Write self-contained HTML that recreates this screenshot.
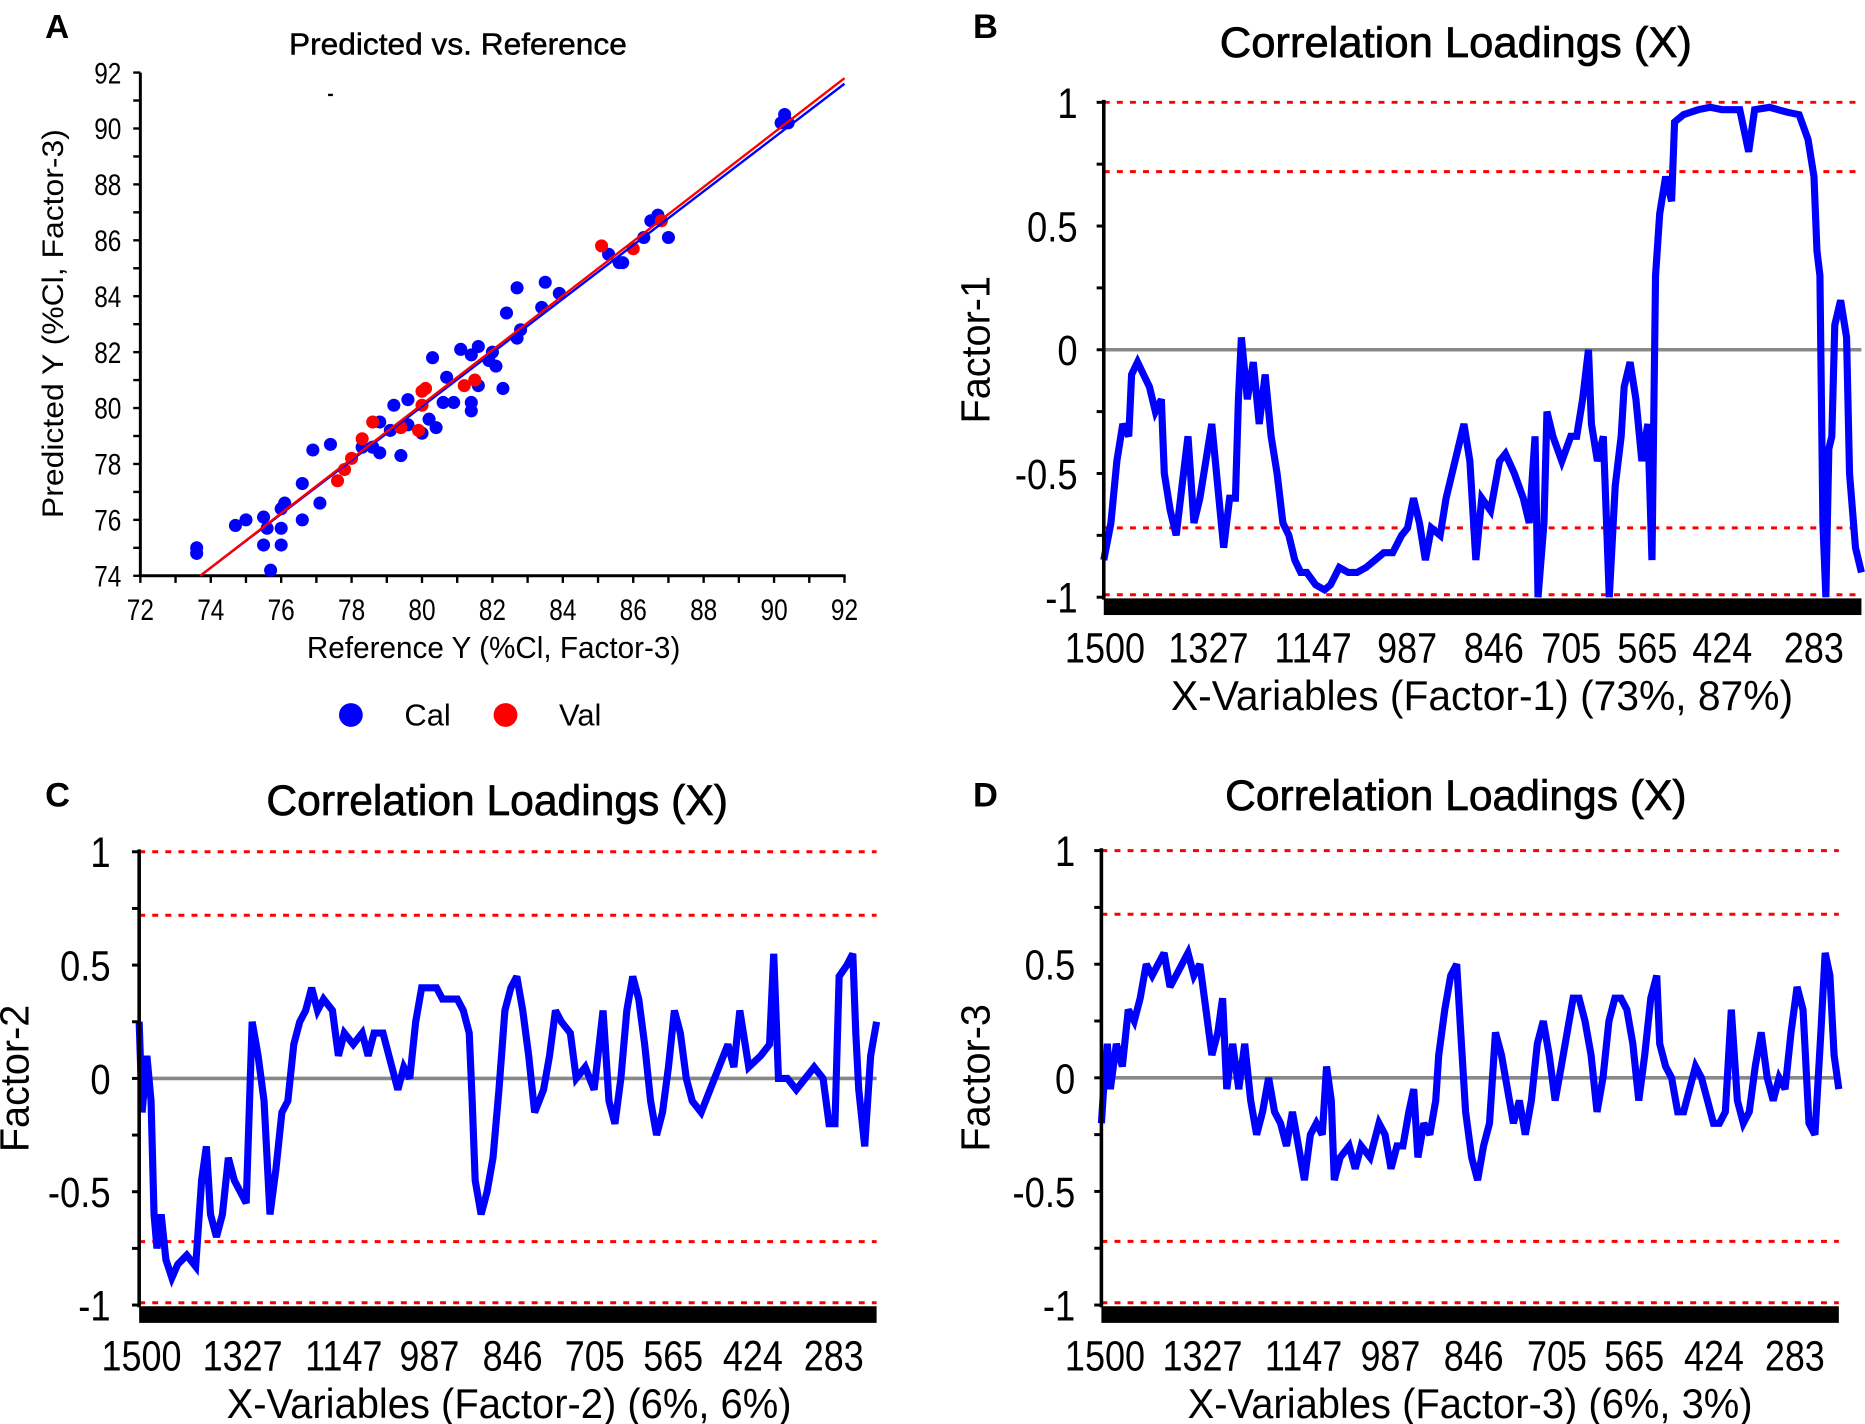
<!DOCTYPE html>
<html><head><meta charset="utf-8"><style>
html,body{margin:0;padding:0;background:#fff;}
svg{display:block;font-family:"Liberation Sans",Arial,sans-serif;}
</style></head><body>
<svg id="fig" width="1865" height="1424" viewBox="0 0 1568 1197" preserveAspectRatio="none" xmlns="http://www.w3.org/2000/svg">
<rect width="1568" height="1197" fill="#fff"/>
</svg>
<script>
// ---------- Panel A data ----------
const calX = [73.6,73.6,74.7,75.0,75.5,75.5,75.6,75.7,76.0,76.0,76.0,76.1,76.6,76.6,77.1,76.9,77.4,78.3,78.6,78.8,78.8,79.1,79.2,79.4,79.6,79.6,80.0,80.2,80.4,80.3,80.6,80.7,80.9,81.1,81.4,81.4,81.4,81.6,81.6,81.9,82.0,82.1,82.3,82.4,82.7,82.7,82.8,83.4,83.5,83.9,85.3,85.6,85.7,86.3,86.5,86.7,87.0,90.2,90.3,90.4];
const calY = [75.0,74.8,75.8,76.0,76.1,75.1,75.7,74.2,75.7,75.1,76.4,76.6,76.0,77.3,76.6,78.5,78.7,78.6,78.6,79.5,78.4,79.2,80.1,78.3,80.3,79.4,79.1,79.6,79.3,81.8,80.2,81.1,80.2,82.1,80.2,79.9,81.9,80.8,82.2,81.7,82.0,81.5,80.7,83.4,84.3,82.5,82.8,83.6,84.5,84.1,85.5,85.2,85.2,86.1,86.7,86.9,86.1,90.2,90.5,90.2];
const valX = [77.6,77.8,78.0,78.3,78.6,79.4,79.9,80.0,80.0,80.1,81.2,81.5,85.1,86.0,86.8];
const valY = [77.4,77.8,78.2,78.9,79.5,79.3,79.2,80.1,80.6,80.7,80.8,81.0,85.8,85.7,86.7];
const calLine = [73.7,74.0,92,91.6];
const valLine = [73.7,74.0,92,91.8];
const aTicks = [72,74,76,78,80,82,84,86,88,90,92];
const aYTicks = [74,76,78,80,82,84,86,88,90,92];

// ---------- Loadings data (variable index, loading) ----------
const bIdx = [0,12,22,32,42,47,57,67,77,87,97,102,112,122,132,142,152,162,172,182,192,202,212,222,227,232,242,252,262,272,282,292,302,312,322,332,342,357,372,382,397,412,427,442,457,472,487,502,512,522,532,542,552,567,577,587,597,607,617,627,637,652,667,677,692,707,717,727,732,742,747,757,772,787,797,807,817,822,832,842,852,862,872,877,887,897,907,917,924,930,937,947,957,962,977,1002,1022,1042,1072,1087,1097,1122,1152,1172,1187,1197,1202,1207,1212,1217,1222,1227,1232,1242,1252,1257,1267,1277];
const bVal = [-0.85,-0.7,-0.45,-0.3,-0.35,-0.1,-0.05,-0.1,-0.15,-0.25,-0.2,-0.5,-0.65,-0.75,-0.55,-0.35,-0.7,-0.6,-0.45,-0.3,-0.55,-0.8,-0.6,-0.6,-0.2,0.05,-0.2,-0.05,-0.3,-0.1,-0.35,-0.5,-0.7,-0.75,-0.85,-0.9,-0.9,-0.95,-0.97,-0.95,-0.88,-0.9,-0.9,-0.88,-0.85,-0.82,-0.82,-0.75,-0.72,-0.6,-0.7,-0.85,-0.72,-0.75,-0.6,-0.5,-0.4,-0.3,-0.45,-0.85,-0.6,-0.65,-0.45,-0.42,-0.5,-0.6,-0.7,-0.35,-1.0,-0.7,-0.25,-0.35,-0.45,-0.35,-0.35,-0.2,0.0,-0.3,-0.45,-0.35,-1.0,-0.55,-0.35,-0.15,-0.05,-0.2,-0.45,-0.3,-0.85,0.3,0.55,0.7,0.6,0.92,0.95,0.97,0.98,0.97,0.97,0.8,0.97,0.98,0.96,0.95,0.85,0.7,0.4,0.3,-0.7,-1.0,-0.4,-0.35,0.1,0.2,0.05,-0.5,-0.8,-0.9];
const cIdx = [0,5,13,20,25,30,37,45,55,65,80,95,105,113,120,130,140,150,160,170,180,190,200,210,220,230,240,250,260,270,280,290,300,310,325,335,345,360,375,385,395,410,425,435,445,455,465,475,485,500,510,525,535,545,555,560,565,575,585,595,605,615,625,635,645,655,665,680,690,700,710,725,735,750,765,780,790,800,810,820,830,840,850,860,870,880,890,900,910,920,930,945,960,975,990,1000,1010,1025,1045,1060,1067,1075,1090,1105,1120,1135,1150,1160,1170,1177,1190,1200,1205,1210,1220,1230,1240];
const cVal = [0.25,-0.15,0.1,-0.1,-0.6,-0.75,-0.6,-0.8,-0.88,-0.82,-0.78,-0.83,-0.45,-0.3,-0.6,-0.7,-0.6,-0.35,-0.45,-0.5,-0.55,0.25,0.1,-0.1,-0.6,-0.4,-0.15,-0.1,0.15,0.25,0.3,0.4,0.3,0.35,0.3,0.1,0.2,0.15,0.2,0.1,0.2,0.2,0.05,-0.05,0.05,0.0,0.25,0.4,0.4,0.4,0.35,0.35,0.35,0.3,0.2,-0.1,-0.45,-0.6,-0.5,-0.35,-0.05,0.3,0.4,0.45,0.3,0.1,-0.15,-0.05,0.1,0.3,0.25,0.2,0.0,0.05,-0.05,0.3,-0.1,-0.2,0.0,0.3,0.45,0.35,0.15,-0.1,-0.25,-0.15,0.05,0.3,0.2,0.0,-0.1,-0.15,-0.05,0.05,0.15,0.05,0.3,0.05,0.1,0.15,0.55,0.0,0.0,-0.05,0.0,0.05,0.0,-0.2,-0.2,0.45,0.5,0.55,0.2,-0.05,-0.3,0.1,0.25];
const dIdx = [0,5,10,15,25,35,45,55,65,75,85,95,105,115,125,135,145,155,165,175,185,195,203,210,220,230,240,250,260,270,280,290,300,310,320,330,340,350,360,370,377,385,390,400,415,425,435,450,465,475,485,495,505,515,523,530,540,550,560,565,575,585,595,603,610,620,630,640,650,660,670,680,690,700,710,720,730,740,750,760,770,780,790,800,810,820,830,840,850,860,870,880,890,900,910,920,930,935,945,955,965,975,985,995,1005,1015,1025,1035,1045,1055,1065,1075,1085,1095,1105,1115,1125,1135,1145,1155,1165,1175,1185,1195,1205,1212,1220,1227,1235];
const dVal = [-0.2,0.0,0.15,-0.05,0.15,0.05,0.3,0.25,0.35,0.5,0.45,0.5,0.55,0.4,0.45,0.5,0.55,0.45,0.5,0.3,0.1,0.2,0.35,-0.05,0.15,-0.05,0.15,-0.1,-0.25,-0.15,0.0,-0.15,-0.2,-0.3,-0.15,-0.3,-0.45,-0.25,-0.2,-0.25,0.05,-0.1,-0.45,-0.35,-0.3,-0.4,-0.3,-0.35,-0.2,-0.25,-0.4,-0.3,-0.3,-0.15,-0.05,-0.35,-0.2,-0.25,-0.1,0.1,0.3,0.45,0.5,0.15,-0.15,-0.35,-0.45,-0.3,-0.2,0.2,0.1,-0.05,-0.2,-0.1,-0.25,-0.1,0.15,0.25,0.1,-0.1,0.05,0.2,0.35,0.35,0.25,0.1,-0.15,0.0,0.25,0.35,0.35,0.3,0.15,-0.1,0.1,0.35,0.45,0.15,0.05,0.0,-0.15,-0.15,-0.05,0.05,0.0,-0.1,-0.2,-0.2,-0.15,0.3,-0.1,-0.2,-0.15,0.05,0.2,0.0,-0.1,0.0,-0.05,0.2,0.4,0.3,-0.2,-0.25,0.2,0.55,0.45,0.1,-0.05];
const wnLabels = ["1500","1327","1147","987","846","705","565","424","283"];
const yTicks = [1,0.5,0,-0.5,-1];
const yTickLabels = ["1","0.5","0","-0.5","-1"];
const limits = [1,0.72,-0.72,-0.99];

const NS="http://www.w3.org/2000/svg";
const svg=document.getElementById('fig');
function mk(tag,attrs,parent){const e=document.createElementNS(NS,tag);for(const k in attrs)e.setAttribute(k,attrs[k]);(parent||svg).appendChild(e);return e;}
function txt(s,attrs,parent){const e=mk('text',attrs,parent);e.textContent=s;return e;}
function narrow(e,k){const w=e.getComputedTextLength();e.setAttribute('textLength',(w*k).toFixed(1));e.setAttribute('lengthAdjust','spacingAndGlyphs');}
function fitW(e,w){e.setAttribute('textLength',w);e.setAttribute('lengthAdjust','spacingAndGlyphs');}

// ---------- Panel A ----------
(function(){
  const g=mk('g',{});
  
  
  const X=v=>118+(v-72)/(92-72)*(710-118);
  const Y=v=>484-(v-74)/(92-74)*(484-61);
  let t=txt('A',{x:38,y:32,'font-size':28,'font-weight':'bold'},g);
  
  t=txt('Predicted vs. Reference',{x:385,y:46,'font-size':26,'text-anchor':'middle','stroke':'#000','stroke-width':0.4},g);
  fitW(t,284);
  
  let ax=mk('line',{x1:118,y1:61,x2:118,y2:484,stroke:'#000','stroke-width':2.5},g);
  
  ax=mk('line',{x1:117,y1:484,x2:711,y2:484,stroke:'#000','stroke-width':2.5},g);
  
  for(let v=72;v<=92;v++){mk('line',{x1:X(v),y1:484,x2:X(v),y2:490,stroke:'#000','stroke-width':2},g);}
  for(let v=74;v<=92;v++){mk('line',{x1:112,y1:Y(v),x2:118,y2:Y(v),stroke:'#000','stroke-width':2},g);}
  aTicks.forEach(v=>{const e=txt(String(v),{x:X(v),y:521,'font-size':25,'text-anchor':'middle'},g);narrow(e,0.82);
    });
  aYTicks.forEach(v=>{const e=txt(String(v),{x:102,y:Y(v)+9,'font-size':25,'text-anchor':'end'},g);narrow(e,0.82);
    });
  t=txt('Reference Y (%Cl, Factor-3)',{x:415,y:553,'font-size':26,'text-anchor':'middle'},g);
  fitW(t,314);
  
  t=txt('Predicted Y (%Cl, Factor-3)',{x:0,y:0,'font-size':25,'text-anchor':'middle',transform:'translate(53,272) rotate(-90)'},g);
  fitW(t,327);
  
  mk('rect',{x:X(77.4)-2,y:Y(91.2)-1,width:4,height:2,fill:'#000'},g);
  calX.forEach((v,i)=>{const c=mk('circle',{cx:X(v),cy:Y(calY[i]),r:5.5,fill:'#0000ff'},g);
    });
  valX.forEach((v,i)=>{const c=mk('circle',{cx:X(v),cy:Y(valY[i]),r:5.5,fill:'#ff0000'},g);
    });
  let l=mk('line',{x1:X(calLine[0]),y1:Y(calLine[1]),x2:X(calLine[2]),y2:Y(calLine[3]),stroke:'#0000ff','stroke-width':2},g);
  
  l=mk('line',{x1:X(valLine[0]),y1:Y(valLine[1]),x2:X(valLine[2]),y2:Y(valLine[3]),stroke:'#ff0000','stroke-width':2},g);
  
  let c=mk('circle',{cx:295,cy:601,r:10,fill:'#0000ff'},g);
  
  t=txt('Cal',{x:340,y:610,'font-size':26},g);
  
  c=mk('circle',{cx:425,cy:601,r:10,fill:'#ff0000'},g);
  
  t=txt('Val',{x:470,y:610,'font-size':26},g);
  
})();

// ---------- Loadings panels ----------
function loadPanel(o){
  const g=mk('g',{});
  
  
  const X=v=>o.x0+v/o.n*(o.x1-o.x0);
  const Y=v=>o.y0-(v+1)/2*(o.y0-o.yTop);
  let t=txt(o.id.toUpperCase(),{x:o.lx,y:o.ly,'font-size':29,'font-weight':'bold'},g);
  
  t=txt('Correlation Loadings (X)',{x:o.tx,y:o.ty,'font-size':36,'text-anchor':'middle','stroke':'#000','stroke-width':0.6},g);
  fitW(t,o.tw);
  
  limits.forEach(v=>{const l=mk('line',{x1:o.x0,y1:Y(v),x2:o.x1,y2:Y(v),stroke:'#ff0000','stroke-width':2.5,'stroke-dasharray':'5 6'},g);
    });
  let z=mk('line',{x1:o.x0,y1:Y(0),x2:o.x1,y2:Y(0),stroke:'#888','stroke-width':3},g);
  
  let d='';o.idx.forEach((v,i)=>{d+=(i?'L':'M')+X(v).toFixed(1)+' '+Y(o.val[i]).toFixed(1);});
  const p=mk('path',{d:d,fill:'none',stroke:'#0000ff','stroke-width':6,'stroke-linejoin':'miter','stroke-miterlimit':3},g);
  
  let ax=mk('line',{x1:o.x0,y1:o.yTop-2,x2:o.x0,y2:Y(-1)+2,stroke:'#000','stroke-width':3},g);
  
  for(let v=-1;v<=1.001;v+=0.25){mk('line',{x1:o.x0-6,y1:Y(v),x2:o.x0,y2:Y(v),stroke:'#000','stroke-width':2.5},g);}
  let bar=mk('rect',{x:o.x0,y:Y(-1)+1,width:o.x1-o.x0,height:14,fill:'#000'},g);
  
  yTicks.forEach((v,i)=>{const e=txt(yTickLabels[i],{x:o.x0-o.yl,y:Y(v)+13,'font-size':36,'text-anchor':'end'},g);narrow(e,0.85);
    });
  wnLabels.forEach((s,i)=>{const e=txt(s,{x:o.labX[i],y:o.y0+55,'font-size':36,'text-anchor':'middle'},g);narrow(e,0.84);
    });
  t=txt(o.xt,{x:o.xtx,y:o.y0+95,'font-size':35,'text-anchor':'middle'},g);
  fitW(t,o.xw);
  
  t=txt(o.yt,{x:0,y:0,'font-size':34,'text-anchor':'middle',transform:'translate('+o.ytx+','+Y(0)+') rotate(-90)'},g);
  fitW(t,124);
  
}
loadPanel({id:'b',idx:bIdx,val:bVal,n:1277,x0:928,x1:1565,yTop:86,y0:502,lx:818,ly:32,tx:1224,ty:48,tw:397,yl:22,xw:523,
  labX:[929,1016,1104,1183,1256,1321,1385,1448,1525],xt:'X-Variables (Factor-1) (73%, 87%)',xtx:1246,yt:'Factor-1',ytx:832});
loadPanel({id:'c',idx:cIdx,val:cVal,n:1240,x0:117,x1:737,yTop:716,y0:1097,lx:38,ly:678,tx:418,ty:685,tw:388,yl:24,xw:475,
  labX:[119,204,289,361,431,500,566,633,701],xt:'X-Variables (Factor-2) (6%, 6%)',xtx:428,yt:'Factor-2',ytx:24});
loadPanel({id:'d',idx:dIdx,val:dVal,n:1235,x0:926,x1:1546,yTop:715,y0:1097,lx:818,ly:678,tx:1224,ty:681,tw:388,yl:22,xw:475,
  labX:[929,1011,1096,1169,1239,1309,1374,1441,1509],xt:'X-Variables (Factor-3) (6%, 3%)',xtx:1236,yt:'Factor-3',ytx:832});
</script>
</body></html>
